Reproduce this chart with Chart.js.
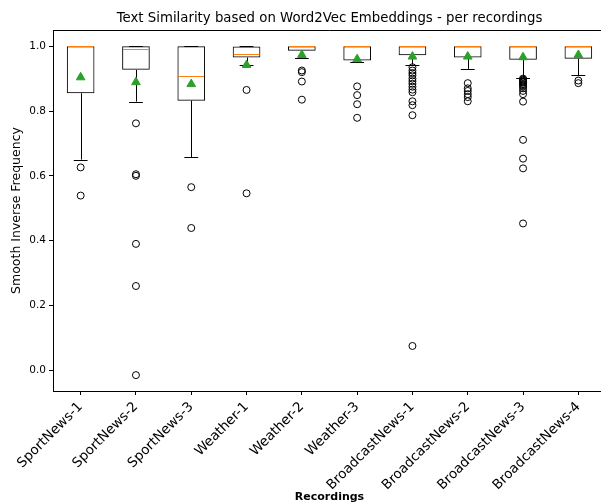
<!DOCTYPE html>
<html>
<head>
<meta charset="utf-8">
<script src="https://cdn.jsdelivr.net/npm/chart.js@4.4.0/dist/chart.umd.min.js"></script>
<style>
  html, body { margin: 0; padding: 0; background: #fff; overflow: hidden; }
  #wrap { width: 612px; height: 504px; }
</style>
</head>
<body>
<div id="wrap"><canvas id="chart" width="612" height="504"></canvas></div>
<script>
var categories = ['SportNews-1', 'SportNews-2', 'SportNews-3', 'Weather-1', 'Weather-2', 'Weather-3',
                  'BroadcastNews-1', 'BroadcastNews-2', 'BroadcastNews-3', 'BroadcastNews-4'];
var q1 = [0.855, 0.927, 0.832, 0.965, 0.986, 0.956, 0.972, 0.965, 0.958, 0.961];
var medians = [1.0, 0.992, 0.909, 0.977, 1.0, 1.0, 1.0, 1.0, 1.0, 1.0];
var q3 = [1.0, 1.0, 1.0, 0.999, 1.0, 1.0, 1.0, 1.0, 1.0, 1.0];
var whiskerLow = [0.650, 0.829, 0.658, 0.943, 0.965, 0.951, 0.943, 0.930, 0.903, 0.910];
var whiskerHigh = [1.0, 1.0, 1.0, 1.0, 1.0, 1.0, 1.0, 1.0, 1.0, 1.0];
var means = [0.904, 0.889, 0.883, 0.942, 0.973, 0.960, 0.968, 0.968, 0.966, 0.973];
var outliers = [
  [0.626, 0.539],
  [0.762, 0.605, 0.600, 0.390, 0.260, -0.015],
  [0.565, 0.439],
  [0.865, 0.546],
  [0.925, 0.920, 0.891, 0.835],
  [0.876, 0.849, 0.821, 0.779],
  [0.935, 0.925, 0.917, 0.910, 0.900, 0.892, 0.884, 0.875, 0.866, 0.858, 0.830, 0.818, 0.787, 0.075],
  [0.886, 0.870, 0.862, 0.852, 0.843, 0.830],
  [0.900, 0.897, 0.894, 0.891, 0.888, 0.884, 0.880, 0.876, 0.870, 0.862, 0.852, 0.829, 0.711, 0.653, 0.623, 0.453],
  [0.894, 0.886]
];
var yTicks = [0.0, 0.2, 0.4, 0.6, 0.8, 1.0];

var FONT = 'DejaVu Sans';
Chart.defaults.color = '#000';
Chart.defaults.font.family = FONT;

var boxData = [], meanPoints = [], outlierPoints = [];
for (var i = 0; i < categories.length; i++) {
  boxData.push({x: i + 1, y: [q1[i], q3[i]]});
  meanPoints.push({x: i + 1, y: means[i]});
  for (var j = 0; j < outliers[i].length; j++) {
    outlierPoints.push({x: i + 1, y: outliers[i][j]});
  }
}

function hline(ctx, x0, x1, y) {
  y = Math.round(y) + 0.5;
  ctx.beginPath(); ctx.moveTo(x0, y); ctx.lineTo(x1, y); ctx.stroke();
}

// whiskers, caps and medians, drawn right after the boxes
var boxParts = {
  id: 'boxParts',
  afterDatasetDraw: function(chart, args) {
    if (args.index !== 0) return;
    var ctx = chart.ctx, xs = chart.scales.x, ys = chart.scales.y;
    ctx.save();
    ctx.lineWidth = 1;
    for (var i = 0; i < categories.length; i++) {
      var cx = Math.round(xs.getPixelForValue(i + 1)) + 0.5;
      var capL = xs.getPixelForValue(i + 1 - 0.125), capR = xs.getPixelForValue(i + 1 + 0.125);
      var boxL = xs.getPixelForValue(i + 1 - 0.25), boxR = xs.getPixelForValue(i + 1 + 0.25);
      ctx.strokeStyle = '#000';
      ctx.beginPath();
      ctx.moveTo(cx, ys.getPixelForValue(q1[i]));
      ctx.lineTo(cx, ys.getPixelForValue(whiskerLow[i]));
      ctx.moveTo(cx, ys.getPixelForValue(q3[i]));
      ctx.lineTo(cx, ys.getPixelForValue(whiskerHigh[i]));
      ctx.stroke();
      hline(ctx, capL, capR, ys.getPixelForValue(whiskerLow[i]));
      hline(ctx, capL, capR, ys.getPixelForValue(whiskerHigh[i]));
      ctx.strokeStyle = '#ff7f0e';
      hline(ctx, boxL + 1, boxR - 1, ys.getPixelForValue(medians[i]));
    }
    ctx.restore();
  }
};

// top/right spines and the title
var frame = {
  id: 'frame',
  afterDraw: function(chart) {
    var ctx = chart.ctx, a = chart.chartArea;
    ctx.save();
    ctx.strokeStyle = '#000';
    ctx.lineWidth = 1;
    ctx.beginPath();
    ctx.moveTo(a.left, a.top + 0.5);
    ctx.lineTo(a.right - 0.5, a.top + 0.5);
    ctx.lineTo(a.right - 0.5, a.bottom);
    ctx.stroke();
    ctx.fillStyle = '#000';
    ctx.font = '13.3px "' + FONT + '"';
    ctx.textAlign = 'center';
    ctx.textBaseline = 'middle';
    ctx.fillText('Text Similarity based on Word2Vec Embeddings - per recordings', (a.left + a.right) / 2, 19);
    ctx.restore();
  }
};

new Chart(document.getElementById('chart'), {
  type: 'bar',
  data: {
    datasets: [
      {
        type: 'bar',
        data: boxData,
        backgroundColor: 'rgba(0,0,0,0)',
        borderColor: '#000',
        borderWidth: 1,
        borderSkipped: false,
        barPercentage: 0.5,
        categoryPercentage: 1,
        order: 3
      },
      {
        type: 'scatter',
        data: outlierPoints,
        pointStyle: 'circle',
        pointRadius: 3.5,
        pointBackgroundColor: 'rgba(0,0,0,0)',
        pointBorderColor: '#000',
        pointBorderWidth: 1,
        order: 2
      },
      {
        type: 'scatter',
        data: meanPoints,
        pointStyle: 'triangle',
        pointRadius: 5,
        pointBackgroundColor: '#2ca02c',
        pointBorderColor: '#2ca02c',
        pointBorderWidth: 1,
        order: 1
      }
    ]
  },
  options: {
    responsive: false,
    animation: false,
    layout: { padding: { top: 30, right: 4, left: 0, bottom: 0 } },
    plugins: { legend: { display: false }, tooltip: { enabled: false } },
    scales: {
      x: {
        type: 'linear',
        min: 0.5,
        max: 10.5,
        offset: false,
        afterBuildTicks: function(axis) {
          axis.ticks = categories.map(function(c, k) { return {value: k + 1}; });
        },
        afterFit: function(axis) { axis.height = 113; },
        ticks: {
          autoSkip: false,
          minRotation: 45,
          maxRotation: 45,
          padding: 4,
          font: { size: 13.5 },
          callback: function(v) { return categories[v - 1]; }
        },
        grid: { drawOnChartArea: false, offset: false, tickLength: 4, tickColor: '#000' },
        border: { color: '#000', width: 1 },
        title: { display: true, text: 'Recordings', font: { size: 11, weight: 'bold' }, padding: { top: 0, bottom: 0 } }
      },
      y: {
        min: -0.064,
        max: 1.05,
        afterBuildTicks: function(axis) {
          axis.ticks = yTicks.map(function(v) { return {value: v}; });
        },
        afterFit: function(axis) { axis.width = 53; },
        ticks: {
          padding: 3,
          font: { size: 10.5 },
          callback: function(v) { return v.toFixed(1); }
        },
        grid: { drawOnChartArea: false, tickLength: 4, tickColor: '#000' },
        border: { color: '#000', width: 1 },
        title: { display: true, text: 'Smooth Inverse Frequency', font: { size: 12.5 }, padding: { top: 9.5, bottom: 0 } }
      }
    }
  },
  plugins: [boxParts, frame]
});
</script>
</body>
</html>
